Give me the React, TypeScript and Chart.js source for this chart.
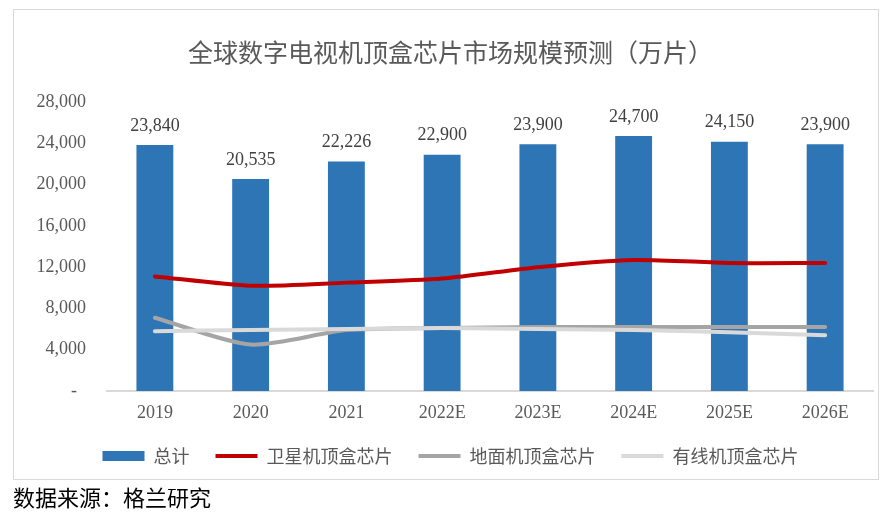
import { useEffect, useRef } from 'react';
import { Chart, registerables } from 'chart.js';
import type { Plugin } from 'chart.js';

Chart.register(...registerables);

// 年份
const categories = ['2019', '2020', '2021', '2022E', '2023E', '2024E', '2025E', '2026E'];

// 万片
const totalValues = [23840, 20535, 22226, 22900, 23900, 24700, 24150, 23900];
const satelliteValues = [11100, 10200, 10500, 10900, 12000, 12700, 12400, 12400];
const terrestrialValues = [7100, 4500, 5900, 6100, 6200, 6200, 6200, 6200];
const cableValues = [5800, 5900, 6000, 6100, 6000, 5900, 5700, 5400];

const yMax = 28000;
const yStep = 4000;

const serif = "'Liberation Serif', 'Times New Roman', serif";
const cjk = "'Noto Sans CJK SC', 'Noto Sans', sans-serif";

// 柱子上方的数值标签
const barLabels: Plugin<'bar'> = {
  id: 'barLabels',
  afterDatasetsDraw(chart) {
    const meta = chart.getDatasetMeta(0);
    const ctx = chart.ctx;
    ctx.save();
    ctx.font = `18px ${serif}`;
    ctx.fillStyle = '#404040';
    ctx.textAlign = 'center';
    ctx.textBaseline = 'middle';
    meta.data.forEach((bar, i) => {
      ctx.fillText(totalValues[i].toLocaleString('en-US'), bar.x, bar.y - 19);
    });
    ctx.restore();
  }
};

export default function App() {
  const canvasRef = useRef<HTMLCanvasElement>(null);

  useEffect(() => {
    if (!canvasRef.current) return;

    const chart = new Chart(canvasRef.current, {
      type: 'bar',
      data: {
        labels: categories,
        datasets: [
          {
            type: 'bar',
            label: '总计',
            data: totalValues,
            backgroundColor: '#2E75B6',
            borderWidth: 0,
            barPercentage: 0.385,
            categoryPercentage: 1,
            pointStyle: 'rect',
            order: 4
          },
          {
            type: 'line',
            label: '卫星机顶盒芯片',
            data: satelliteValues,
            borderColor: '#C00000',
            backgroundColor: '#C00000',
            borderWidth: 4,
            borderCapStyle: 'round',
            pointRadius: 0,
            pointStyle: 'line',
            tension: 0.25,
            order: 1
          },
          {
            type: 'line',
            label: '地面机顶盒芯片',
            data: terrestrialValues,
            borderColor: '#A5A5A5',
            backgroundColor: '#A5A5A5',
            borderWidth: 4,
            borderCapStyle: 'round',
            pointRadius: 0,
            pointStyle: 'line',
            tension: 0.25,
            order: 3
          },
          {
            type: 'line',
            label: '有线机顶盒芯片',
            data: cableValues,
            borderColor: '#D9D9D9',
            backgroundColor: '#D9D9D9',
            borderWidth: 4,
            borderCapStyle: 'round',
            pointRadius: 0,
            pointStyle: 'line',
            tension: 0.25,
            order: 2
          }
        ]
      },
      options: {
        responsive: false,
        animation: false,
        layout: {
          padding: { top: 10, left: 28, right: 15, bottom: 44 }
        },
        plugins: {
          title: {
            display: true,
            text: '全球数字电视机顶盒芯片市场规模预测（万片）',
            color: '#595959',
            font: { family: cjk, size: 25, weight: 'normal' },
            padding: { top: 27, bottom: 35 }
          },
          legend: {
            position: 'bottom',
            labels: {
              usePointStyle: true,
              pointStyleWidth: 42,
              boxHeight: 10,
              padding: 26,
              color: '#595959',
              font: { family: cjk, size: 18 },
              sort: (a, b) => (a.datasetIndex ?? 0) - (b.datasetIndex ?? 0)
            }
          },
          tooltip: { enabled: false }
        },
        scales: {
          x: {
            grid: { display: false, drawTicks: false },
            border: { display: true, color: '#D9D9D9', width: 2 },
            ticks: {
              color: '#595959',
              font: { family: serif, size: 18 },
              padding: 11
            },
            afterFit: (scale) => {
              scale.height = 30;
            }
          },
          y: {
            min: 0,
            max: yMax,
            grid: { display: false, drawTicks: false },
            border: { display: false },
            ticks: {
              stepSize: yStep,
              color: '#595959',
              font: { family: serif, size: 18 },
              padding: 21,
              callback: (value) => (Number(value) === 0 ? '-  ' : Number(value).toLocaleString('en-US'))
            },
            afterFit: (scale) => {
              scale.width = 79;
            }
          }
        }
      },
      plugins: [barLabels]
    });

    return () => {
      chart.destroy();
    };
  }, []);

  return (
    <div style={{ position: 'absolute', left: 0, top: 0, width: 888, height: 519, background: '#fff' }}>
      <div
        style={{
          position: 'absolute',
          left: 13,
          top: 9,
          width: 866,
          height: 471,
          border: '1px solid #D9D9D9',
          boxSizing: 'border-box'
        }}
      />
      <canvas ref={canvasRef} width={888} height={519} style={{ position: 'absolute', left: 0, top: 0 }} />
      <div
        style={{
          position: 'absolute',
          left: 13,
          top: 483,
          fontFamily: cjk,
          fontSize: 22,
          lineHeight: '27px',
          color: '#000'
        }}
      >
        数据来源：格兰研究
      </div>
    </div>
  );
}
